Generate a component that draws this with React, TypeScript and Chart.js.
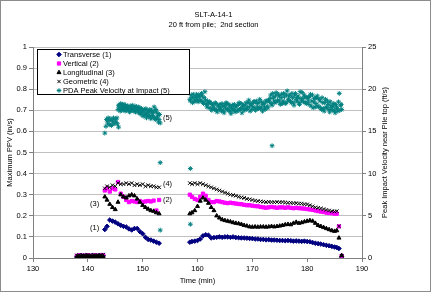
import React, { useEffect, useRef } from 'react';
import { Chart, registerables } from 'chart.js';
import { drawPoint } from 'chart.js/helpers';

Chart.register(...registerables);

const TITLE_LINES = ['SLT-A-14-1', '20 ft from pile;  2nd section'];
const X_TITLE = 'Time (min)';
const Y_TITLE = 'Maximum PPV (in/s)';
const Y2_TITLE = 'Peak Impact Velocity near Pile top (ft/s)';
const SERIES_NAMES = ['Transverse (1)', 'Vertical (2)', 'Longitudinal (3)', 'Geometric (4)', 'PDA Peak Velocity at Impact (5)'];
const SERIES_COLORS = ['#000080', '#FF00FF', '#000000', '#000000', '#008080'];
const SERIES_STYLES = ['rectRot', 'rect', 'triangle', 'crossRot', 'star'];

// Geophone sample times (min)
const GEO_TIME = [
  138.0, 138.4, 138.8, 139.2, 139.6, 140.0, 140.4, 140.8, 141.2, 141.6, 142.0, 142.4, 142.8,
  143.1, 143.5, 144.0, 144.5, 145.0, 145.5, 146.0, 146.5, 147.0, 147.5, 148.0, 148.5, 149.0, 149.5, 150.0, 150.5, 151.0, 151.5, 152.0, 152.5, 153.0,
  158.6, 159.0, 159.5, 160.0, 160.5, 161.0, 161.5, 162.0, 162.5, 163.0, 163.5, 164.0, 164.5, 165.0, 165.5, 166.0, 166.5, 167.0, 167.5, 168.0,
  168.5, 169.0, 169.5, 170.0, 170.5, 171.0, 171.5, 172.0, 172.5, 173.0, 173.5, 174.0, 174.5, 175.0, 175.5, 176.0, 176.5, 177.0, 177.5, 178.0,
  178.5, 179.0, 179.5, 180.0, 180.5, 181.0, 181.5, 182.0, 182.5, 183.0, 183.5, 184.0, 184.5, 185.0, 185.4,
  185.8, 186.3,
];

const TRANSVERSE = [
  0.008, 0.01, 0.012, 0.009, 0.011, 0.01, 0.008, 0.012, 0.01, 0.009, 0.011, 0.01, 0.012,
  0.135, 0.15, 0.18, 0.175, 0.17, 0.162, 0.155, 0.15, 0.147, 0.138, 0.133, 0.14, 0.14, 0.125, 0.115, 0.098, 0.088, 0.085, 0.08, 0.075, 0.07,
  0.075, 0.078, 0.08, 0.083, 0.09, 0.105, 0.11, 0.108, 0.095, 0.097, 0.098, 0.1, 0.098, 0.1, 0.1, 0.098, 0.1, 0.097, 0.096, 0.095,
  0.095, 0.094, 0.093, 0.092, 0.09, 0.09, 0.088, 0.088, 0.086, 0.087, 0.085, 0.085, 0.084, 0.083, 0.083, 0.082, 0.083, 0.082, 0.08, 0.081,
  0.08, 0.079, 0.08, 0.078, 0.077, 0.073, 0.07, 0.068, 0.066, 0.063, 0.06, 0.058, 0.055, 0.052, 0.05,
  0.045, 0.005,
];

const VERTICAL = [
  0.01, 0.012, 0.009, 0.011, 0.01, 0.013, 0.01, 0.009, 0.012, 0.011, 0.01, 0.012, 0.014,
  0.32, 0.33, 0.315, 0.33, 0.325, 0.36, 0.305, 0.29, 0.275, 0.265, 0.27, 0.268, 0.265, 0.27, 0.265, 0.268, 0.27, 0.268, 0.272, 0.225, 0.275,
  0.30, 0.29, 0.28, 0.275, 0.29, 0.305, 0.295, 0.275, 0.265, 0.265, 0.27, 0.268, 0.265, 0.262, 0.26, 0.262, 0.26, 0.258, 0.256, 0.255,
  0.252, 0.25, 0.25, 0.248, 0.246, 0.245, 0.242, 0.24, 0.238, 0.24, 0.242, 0.24, 0.238, 0.24, 0.24, 0.238, 0.24, 0.238, 0.236, 0.238,
  0.236, 0.235, 0.234, 0.232, 0.23, 0.228, 0.225, 0.222, 0.22, 0.218, 0.215, 0.213, 0.212, 0.21, 0.21,
  0.15, 0.01,
];

const LONGITUDINAL = [
  0.006, 0.008, 0.007, 0.009, 0.006, 0.008, 0.007, 0.006, 0.008, 0.007, 0.009, 0.006, 0.008,
  0.29, 0.275, 0.255, 0.24, 0.23, 0.265, 0.30, 0.29, 0.285, 0.295, 0.30, 0.295, 0.28, 0.265, 0.25, 0.24, 0.232, 0.225, 0.222, 0.215, 0.21,
  0.21, 0.215, 0.225, 0.245, 0.27, 0.285, 0.275, 0.26, 0.24, 0.225, 0.2, 0.19, 0.182, 0.178, 0.175, 0.172, 0.168, 0.165, 0.163, 0.16,
  0.155, 0.152, 0.148, 0.147, 0.148, 0.147, 0.148, 0.148, 0.147, 0.148, 0.15, 0.148, 0.15, 0.152, 0.155, 0.158, 0.16, 0.158, 0.165, 0.17,
  0.165, 0.168, 0.172, 0.175, 0.178, 0.175, 0.165, 0.155, 0.15, 0.145, 0.14, 0.135, 0.13, 0.127, 0.13,
  0.095, 0.012,
];

const GEOMETRIC = [
  0.012, 0.014, 0.011, 0.013, 0.012, 0.015, 0.012, 0.011, 0.014, 0.013, 0.012, 0.014, 0.016,
  0.33, 0.34, 0.335, 0.345, 0.34, 0.355, 0.35, 0.35, 0.355, 0.35, 0.355, 0.345, 0.35, 0.345, 0.35, 0.34, 0.345, 0.34, 0.34, 0.335, 0.335,
  0.355, 0.35, 0.355, 0.35, 0.355, 0.35, 0.345, 0.34, 0.335, 0.33, 0.325, 0.32, 0.315, 0.31, 0.305, 0.3, 0.298, 0.295, 0.29, 0.287,
  0.285, 0.28, 0.278, 0.275, 0.272, 0.27, 0.268, 0.267, 0.265, 0.266, 0.265, 0.264, 0.265, 0.264, 0.265, 0.263, 0.262, 0.262, 0.26, 0.26,
  0.258, 0.258, 0.255, 0.254, 0.25, 0.245, 0.24, 0.238, 0.235, 0.232, 0.228, 0.225, 0.222, 0.22, 0.222,
  0.15, 0.01,
];

// PDA impact velocities (ft/s), right axis
const PDA_TIME = [
  143.1, 143.3, 143.4, 143.6, 143.7, 143.9, 144.0, 144.2, 144.3, 144.5, 144.7, 144.8, 145.0, 145.1, 145.3, 145.4, 145.6,
  145.5, 145.7, 145.9, 146.1, 146.3, 146.5, 146.7, 146.9, 147.1, 147.3, 147.5, 147.7, 147.9, 148.1, 148.3, 148.5, 148.7, 148.9, 149.1, 149.3,
  149.5, 149.7, 149.9, 150.1, 150.3, 150.5, 150.7, 150.9, 151.1, 151.3, 151.5, 151.7, 151.9, 152.1, 152.3, 152.5, 152.7, 152.9, 153.1, 153.2,
  145.6, 145.8, 146.0, 146.2, 146.4, 146.6, 146.8, 147.0, 147.2, 147.4, 147.6, 147.8, 148.0, 148.2, 148.4, 148.6, 148.8, 149.0, 149.2, 149.4,
  149.6, 149.8, 150.0, 150.2, 150.4, 150.6, 150.8, 151.0, 151.2, 151.4, 151.6, 151.8, 152.0, 152.2, 152.4, 152.6, 152.8, 153.0,
  153.2, 153.2, 158.7, 158.7, 173.6,
  158.6, 158.85, 159.1, 159.35, 159.6, 159.85, 160.1, 160.35, 160.6, 160.85, 161.1, 161.35,
  161.6, 161.85, 162.1, 162.35, 162.6, 162.85, 163.1, 163.35, 163.6, 163.85, 164.1, 164.35, 164.6, 164.85,
  165.1, 165.35, 165.6, 165.85, 166.1, 166.35, 166.6, 166.85, 167.1, 167.35, 167.6, 167.85, 168.1, 168.35,
  168.6, 168.85, 169.1, 169.35, 169.6, 169.85, 170.1, 170.35, 170.6, 170.85, 171.1, 171.35, 171.6, 171.85, 172.1, 172.35, 172.6, 172.85,
  173.1, 173.35, 173.6, 173.85, 174.1, 174.35, 174.6, 174.85, 175.1, 175.35, 175.6, 175.85, 176.1, 176.35,
  176.6, 176.85, 177.1, 177.35, 177.6, 177.85, 178.1, 178.35, 178.6, 178.85, 179.1, 179.35, 179.6, 179.85,
  180.1, 180.35, 180.6, 180.85, 181.1, 181.35, 181.6, 181.85, 182.1, 182.35, 182.6, 182.85, 183.1,
  183.35, 183.6, 183.85, 184.1, 184.35, 184.6, 184.85, 185.1, 185.35, 185.6, 185.85, 186.1, 186.3,
  158.72, 158.97, 159.22, 159.47, 159.72, 159.97, 160.22, 160.47, 160.72, 160.97, 161.22, 161.47,
  161.72, 161.97, 162.22, 162.47, 162.72, 162.97, 163.22, 163.47, 163.72, 163.97, 164.22, 164.47, 164.72, 164.97,
  165.22, 165.47, 165.72, 165.97, 166.22, 166.47, 166.72, 166.97, 167.22, 167.47, 167.72, 167.97, 168.22, 168.47,
  168.72, 168.97, 169.22, 169.47, 169.72, 169.97, 170.22, 170.47, 170.72, 170.97, 171.22, 171.47, 171.72, 171.97, 172.22, 172.47, 172.72, 172.97,
  173.22, 173.47, 173.72, 173.97, 174.22, 174.47, 174.72, 174.97, 175.22, 175.47, 175.72, 175.97, 176.22, 176.47,
  176.72, 176.97, 177.22, 177.47, 177.72, 177.97, 178.22, 178.47, 178.72, 178.97, 179.22, 179.47, 179.72, 179.97,
  180.22, 180.47, 180.72, 180.97, 181.22, 181.47, 181.72, 181.97, 182.22, 182.47, 182.72, 182.97, 183.22,
  183.47, 183.72, 183.97, 184.22, 184.47, 184.72, 184.97, 185.22, 185.47, 185.72, 185.97, 186.22,
];
const PDA_VEL = [
  14.8, 15.6, 16.4, 16.0, 16.6, 15.8, 16.3, 16.5, 15.7, 16.2, 16.6, 15.9, 16.4, 16.1, 16.6, 15.9, 15.5,
  17.6, 18.0, 17.4, 17.9, 18.2, 17.6, 17.9, 18.1, 17.5, 17.8, 18.0, 17.4, 17.7, 18.1, 17.5, 17.8, 17.3, 17.9, 17.6, 17.2,
  17.8, 17.0, 17.5, 16.8, 17.6, 17.1, 16.6, 17.4, 16.9, 17.6, 16.5, 17.2, 16.7, 17.9, 16.4, 17.3, 16.8, 16.1, 17.0, 16.0,
  18.1, 17.7, 18.3, 17.5, 17.9, 18.2, 17.4, 17.8, 18.0, 17.6, 17.3, 17.9, 17.6, 17.8, 17.4, 18.0, 17.6, 17.4, 17.9, 17.5,
  17.2, 17.7, 17.3, 17.5, 16.9, 17.7, 17.2, 16.8, 17.3, 16.7, 17.5, 16.9, 17.3, 16.6, 17.6, 16.5, 17.1, 16.4,
  11.3, 3.3, 10.6, 4.0, 13.3,
  18.8, 19.3, 18.4, 19.0, 18.6, 19.4, 18.5, 19.1, 18.7, 19.2, 18.3, 19.7,
  18.2, 18.6, 17.8, 18.4, 17.5, 18.1, 17.6, 18.3, 17.3, 17.9, 18.2, 17.4, 18.0, 17.2,
  17.8, 18.3, 17.5, 17.9, 17.1, 18.1, 17.6, 17.3, 18.0, 17.5, 18.4, 17.7, 17.2, 18.1,
  17.6, 18.4, 17.8, 18.7, 17.4, 18.2, 17.9, 18.5, 17.5, 18.3, 17.7, 18.8, 17.9, 17.4, 18.3, 17.6, 18.6, 17.8,
  18.5, 19.3, 18.1, 19.0, 18.4, 19.6, 18.7, 19.2, 18.2, 19.4, 18.6, 19.1, 18.3, 19.8,
  18.8, 19.3, 18.4, 19.0, 18.1, 19.5, 18.6, 19.2, 18.2, 18.9, 19.6, 18.5, 19.1, 18.3,
  19.0, 18.2, 19.4, 18.6, 17.8, 18.9, 18.3, 19.2, 17.9, 18.6, 17.6, 18.4, 17.4,
  18.8, 17.8, 18.2, 17.3, 18.0, 17.5, 18.3, 17.2, 17.9, 17.4, 19.5, 18.1, 17.6,
  18.6, 19.0, 19.4, 18.6, 19.1, 18.8, 19.3, 18.6, 19.5, 18.5, 19.0, 18.7,
  17.9, 18.3, 18.5, 17.7, 18.2, 17.8, 18.4, 17.5, 18.1, 17.6, 17.8, 18.3, 17.5, 18.1,
  18.4, 17.6, 18.2, 17.4, 17.8, 17.5, 18.2, 17.9, 17.4, 18.2, 17.6, 18.3, 17.9, 17.5,
  18.1, 17.6, 18.4, 17.9, 18.3, 17.6, 18.5, 17.8, 18.6, 17.9, 18.4, 17.7, 18.5, 18.2, 17.8, 18.6, 18.0, 18.7,
  18.9, 18.3, 19.5, 18.6, 19.2, 18.5, 19.4, 18.6, 19.0, 18.3, 19.5, 18.4, 19.3, 18.6,
  19.2, 18.6, 19.5, 18.4, 19.3, 18.8, 19.0, 18.4, 19.7, 18.6, 18.9, 19.3, 18.4, 19.0,
  18.6, 19.1, 18.0, 19.3, 18.5, 17.9, 19.0, 18.0, 18.8, 17.8, 19.0, 17.7, 18.4,
  17.9, 18.6, 17.6, 18.5, 17.8, 18.0, 17.5, 18.2, 17.7, 18.5, 17.5, 18.2,
];

// Series labels placed in the plot (text, x time, y in/s)
const ANNOT_TEXT = ['(5)', '(4)', '(2)', '(3)', '(1)'];
const ANNOT_X = [153.7, 153.7, 153.7, 140.4, 140.4];
const ANNOT_Y = [0.663, 0.35, 0.275, 0.256, 0.142];

const FONT = 'Arial, "Liberation Sans", sans-serif';

function toXY(xs: number[], ys: number[]) {
  const n = Math.min(xs.length, ys.length);
  return xs.slice(0, n).map((x, i) => ({ x, y: ys[i] }));
}

export default function App() {
  const ref = useRef<HTMLCanvasElement | null>(null);

  useEffect(() => {
    document.body.style.margin = '0';
    const canvas = ref.current;
    if (!canvas) return;

    const geoSeries = [TRANSVERSE, VERTICAL, LONGITUDINAL, GEOMETRIC];
    const radii = [2.3, 2.3, 2.3, 2.5, 2.4];
    const datasets: any[] = geoSeries.map((vals, i) => ({
      label: SERIES_NAMES[i],
      data: toXY(GEO_TIME, vals),
      yAxisID: 'y',
      pointStyle: SERIES_STYLES[i],
      pointRadius: radii[i],
      pointBorderWidth: 1,
      borderColor: SERIES_COLORS[i],
      backgroundColor: SERIES_COLORS[i],
      showLine: false,
      order: 4 - i,
    }));
    datasets.push({
      label: SERIES_NAMES[4],
      data: toXY(PDA_TIME, PDA_VEL),
      yAxisID: 'y2',
      pointStyle: SERIES_STYLES[4],
      pointRadius: radii[4],
      pointBorderWidth: 1,
      borderColor: SERIES_COLORS[4],
      backgroundColor: SERIES_COLORS[4],
      showLine: false,
      order: 0,
    });

    const overlay = {
      id: 'overlay',
      afterDraw(chart: any) {
        const ctx = chart.ctx as CanvasRenderingContext2D;
        const area = chart.chartArea;
        const xs = chart.scales.x;
        const ys = chart.scales.y;
        ctx.save();
        ctx.fillStyle = '#000';
        ctx.textBaseline = 'middle';
        ctx.font = `7.5px ${FONT}`;
        ctx.textAlign = 'center';
        ctx.fillText(TITLE_LINES[0], 213.5, 15);
        ctx.fillText(TITLE_LINES[1], 213.5, 25);
        ctx.fillText(X_TITLE, (area.left + area.right) / 2, 281);
        const cy = (area.top + area.bottom) / 2;
        ctx.save();
        ctx.translate(10, cy);
        ctx.rotate(-Math.PI / 2);
        ctx.fillText(Y_TITLE, 0, 0);
        ctx.restore();
        ctx.save();
        ctx.translate(384.5, cy);
        ctx.rotate(-Math.PI / 2);
        ctx.fillText(Y2_TITLE, 0, 0);
        ctx.restore();
        ctx.textAlign = 'left';
        ANNOT_TEXT.forEach((t, i) => {
          ctx.fillText(t, xs.getPixelForValue(ANNOT_X[i]), ys.getPixelForValue(ANNOT_Y[i]));
        });
        // Legend
        const lx = area.left + 4.5;
        const ly = area.top + 2.5;
        const lw = 152;
        const lh = 45;
        ctx.fillStyle = '#fff';
        ctx.fillRect(lx, ly, lw, lh);
        ctx.strokeStyle = '#000';
        ctx.lineWidth = 1;
        ctx.strokeRect(lx, ly, lw, lh);
        SERIES_NAMES.forEach((name, i) => {
          const y = ly + 5 + i * 9;
          ctx.fillStyle = SERIES_COLORS[i];
          ctx.strokeStyle = SERIES_COLORS[i];
          ctx.lineWidth = 1;
          drawPoint(ctx, { pointStyle: SERIES_STYLES[i] as any, radius: 2.3, rotation: 0, borderWidth: 1 } as any, lx + 21.5, y);
          ctx.fillStyle = '#000';
          ctx.textAlign = 'left';
          ctx.fillText(name, lx + 25.5, y);
        });
        ctx.strokeStyle = '#8c8c8c';
        ctx.strokeRect(0.5, 0.5, chart.width - 1, chart.height - 1);
        ctx.restore();
      },
    };

    const axisColor = '#808080';
    const chart = new Chart(canvas, {
      type: 'scatter',
      data: { datasets },
      options: {
        responsive: false,
        animation: false,
        devicePixelRatio: 1,
        events: [],
        layout: { padding: { left: 8, right: 39, top: 47, bottom: 14 } },
        plugins: { legend: { display: false }, tooltip: { enabled: false }, title: { display: false } },
        scales: {
          x: {
            type: 'linear',
            min: 130,
            max: 190,
            ticks: { stepSize: 10, color: '#000', font: { size: 7.5, family: FONT }, padding: 2, maxRotation: 0 },
            grid: { drawOnChartArea: false, drawTicks: true, tickLength: 4, tickColor: axisColor },
            border: { color: axisColor, width: 1 },
            afterFit: (s: any) => { s.height = 20; },
          },
          y: {
            type: 'linear',
            position: 'left',
            min: 0,
            max: 1,
            ticks: {
              stepSize: 0.1,
              color: '#000',
              font: { size: 7.5, family: FONT },
              padding: 2,
              callback: (v: any) => String(Math.round(Number(v) * 10) / 10),
            },
            grid: { color: '#c0c0c0', lineWidth: 1, tickLength: 4, tickColor: axisColor },
            border: { color: axisColor, width: 1 },
            afterFit: (s: any) => { s.width = 25; },
          },
          y2: {
            type: 'linear',
            position: 'right',
            min: 0,
            max: 25,
            ticks: { stepSize: 5, color: '#000', font: { size: 7.5, family: FONT }, padding: 2 },
            grid: { drawOnChartArea: false, tickLength: 4, tickColor: axisColor },
            border: { color: axisColor, width: 1 },
            afterFit: (s: any) => { s.width = 30; },
          },
        },
      } as any,
      plugins: [overlay],
    });
    return () => chart.destroy();
  }, []);

  return (
    <div style={{ width: 431, height: 292, background: '#fff' }}>
      <canvas ref={ref} width={431} height={292} style={{ display: 'block' }} />
    </div>
  );
}
